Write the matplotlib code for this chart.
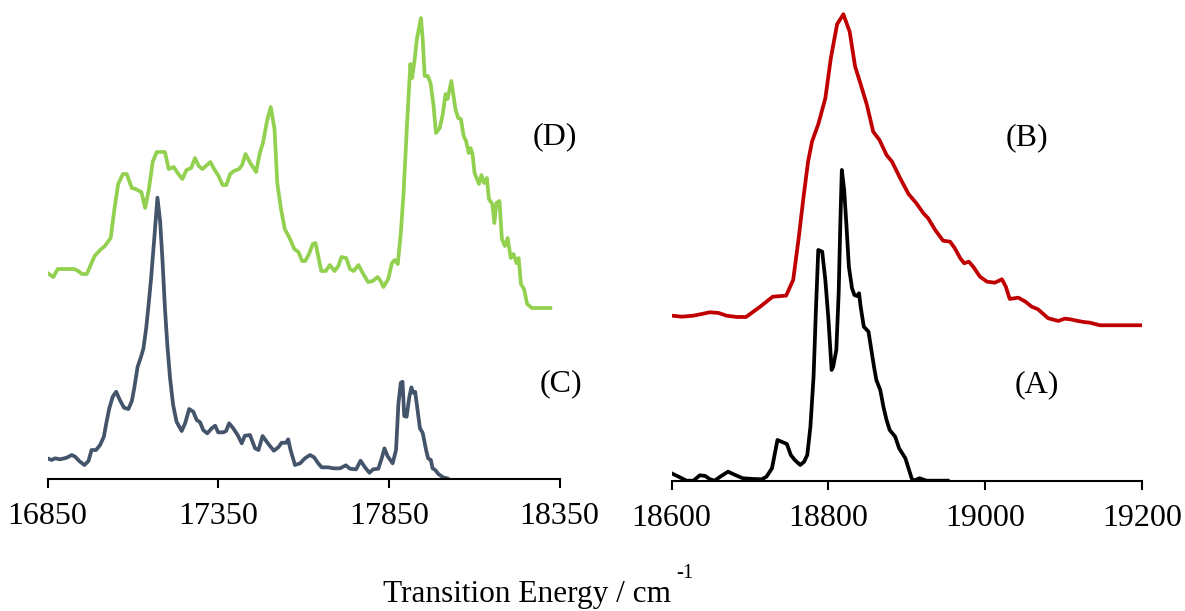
import matplotlib.pyplot as plt


# Spectrum (D) - green, offset trace on the left panel
d_wn = [16850, 16867, 16880, 16928, 16940, 16951, 16965, 16988, 17004, 17018,
        17035, 17046, 17057, 17071, 17082, 17097, 17108, 17125, 17136, 17147,
        17158, 17170, 17194, 17205, 17220, 17231, 17245, 17257, 17271, 17282,
        17293, 17304, 17327, 17338, 17351, 17363, 17374, 17385, 17396, 17411,
        17420, 17430, 17444, 17461, 17472, 17481, 17493, 17504, 17515, 17523,
        17534, 17545, 17559, 17573, 17585, 17596, 17605, 17616, 17627, 17635,
        17644, 17652, 17665, 17677, 17691, 17702, 17711, 17725, 17736, 17747,
        17761, 17775, 17789, 17803, 17817, 17826, 17834, 17848, 17859, 17867,
        17876, 17885, 17893, 17904, 17913, 17918, 17925, 17932, 17944, 17949,
        17955, 17964, 17972, 17981, 17988, 17999, 18008, 18016, 18022, 18033,
        18045, 18053, 18061, 18069, 18076, 18084, 18089, 18095, 18101, 18114,
        18121, 18129, 18137, 18143, 18153, 18159, 18165, 18174, 18181, 18190,
        18198, 18207, 18215, 18224, 18230, 18237, 18246, 18255, 18269, 18323]
d_int = [36, 32, 40, 40, 38, 35, 35, 53, 59, 63,
         71, 100, 125, 135, 135, 121, 120, 117, 101, 120,
         147, 157, 157, 140, 142, 136, 130, 139, 141, 151,
         143, 140, 147, 140, 133, 124, 124, 135, 138, 140,
         144, 155, 146, 137, 156, 166, 188, 202, 180, 126,
         100, 80, 71, 60, 57, 48, 48, 55, 65, 66,
         51, 38, 38, 44, 38, 43, 52, 51, 40, 38,
         44, 35, 27, 28, 32, 28, 22, 30, 46, 49,
         45, 76, 116, 190, 245, 231, 248, 270, 291, 270,
         233, 233, 226, 203, 176, 181, 195, 215, 210, 228,
         200, 191, 190, 173, 168, 156, 161, 155, 136, 125,
         134, 126, 131, 110, 105, 86, 106, 108, 70, 63,
         71, 51, 55, 46, 51, 25, 20, 5, 1, 1]
d_offset = 170

# Spectrum (C) - slate, left panel
c_wn = [16850, 16862, 16872, 16887, 16906, 16921, 16931, 16943, 16958, 16970,
        16979, 16992, 17004, 17015, 17023, 17031, 17041, 17051, 17062, 17074,
        17087, 17097, 17104, 17114, 17124, 17131, 17139, 17145, 17153, 17162,
        17172, 17180, 17187, 17194, 17201, 17209, 17218, 17228, 17243, 17253,
        17265, 17277, 17287, 17297, 17306, 17318, 17331, 17341, 17350, 17365,
        17373, 17382, 17394, 17407, 17419, 17428, 17443, 17458, 17468, 17480,
        17497, 17513, 17526, 17536, 17549, 17555, 17562, 17575, 17590, 17604,
        17619, 17631, 17643, 17653, 17673, 17687, 17707, 17724, 17736, 17754,
        17767, 17780, 17793, 17804, 17819, 17829, 17837, 17846, 17861, 17871,
        17878, 17885, 17890, 17895, 17902, 17910, 17916, 17921, 17927, 17934,
        17941, 17949, 17959, 17965, 17973, 17978, 17986, 17995, 18009, 18021]
c_int = [20.7, 19, 20.7, 19.7, 21.3, 24, 22.3, 18, 14, 18,
         29, 29, 34, 42.3, 57.3, 70.7, 82.3, 87.3, 79, 71.3,
         70, 78, 90.7, 112.3, 122.3, 130.7, 150.7, 170.7, 199, 237.3,
         281.3, 257.3, 217.3, 170.7, 134, 100.7, 74, 57.3, 48, 55.7,
         70, 67.3, 59, 56.7, 49, 45.7, 50.7, 53.3, 46.7, 46.7,
         48, 55.7, 50.7, 44, 35.7, 43.3, 44, 30.7, 29, 43,
         35, 28.3, 31.7, 36.3, 36.3, 39.7, 29, 14, 15.7, 20.7,
         24, 21.7, 15.7, 11.7, 11.7, 10.7, 10.7, 13.7, 10.3, 9.7,
         18.3, 11.7, 6.3, 9.7, 10.3, 20.7, 30.7, 23, 15.7, 29,
         75.7, 96.3, 97.3, 63, 62.3, 82.3, 91.7, 86.3, 87.3, 69,
         50.7, 46.3, 29, 20.7, 19, 10.7, 9, 5, 1.7, 0.7]

# Spectrum (B) - red, offset trace on the right panel
b_wn = [18600, 18613, 18628, 18649, 18660, 18670, 18683, 18695, 18713, 18729,
        18746, 18755, 18762, 18768, 18774, 18779, 18787, 18796, 18803, 18811,
        18819, 18827, 18834, 18840, 18849, 18857, 18865, 18874, 18881, 18891,
        18902, 18912, 18921, 18927, 18936, 18946, 18955, 18961, 18968, 18973,
        18979, 18985, 18993, 19002, 19012, 19021, 19026, 19031, 19042, 19051,
        19059, 19067, 19080, 19093, 19101, 19108, 19116, 19125, 19133, 19146,
        19167, 19200]
b_int = [10.3, 9.3, 10.3, 13.7, 13, 10.3, 9, 9, 19.3, 29.3,
         30.3, 46, 87.7, 127.7, 164.3, 184.3, 201.7, 227.7, 267.7, 301.7,
         311.7, 294.3, 259.3, 244.3, 221, 194.3, 186, 171, 164.3, 148.3,
         132, 122.7, 112.7, 107.7, 96, 85.3, 84.3, 77.7, 67.7, 62.7,
         64.3, 58.7, 49.3, 44.3, 43.3, 46.7, 39.3, 27, 28.3, 24.3,
         19.3, 16.7, 7.7, 5, 7.3, 6.7, 5.3, 4, 3.3, 0.7,
         0.7, 0.7]
b_offset = 155

# Spectrum (A) - black, right panel
a_wn = [18600, 18609, 18619, 18628, 18636, 18643, 18649, 18655, 18662, 18672,
        18681, 18691, 18704, 18715, 18721, 18728, 18735, 18740, 18747, 18752,
        18757, 18764, 18769, 18773, 18777, 18781, 18784, 18787, 18792, 18796,
        18800, 18804, 18806, 18810, 18813, 18815, 18817, 18820, 18823, 18826,
        18830, 18833, 18836, 18839, 18841, 18845, 18851, 18854, 18858, 18861,
        18866, 18870, 18874, 18878, 18885, 18890, 18898, 18902, 18906, 18909,
        18916, 18925, 18952]
a_int = [7.7, 4.3, 0.3, 0.3, 5.7, 5, 1.7, 0.3, 4.3, 9.3,
         6, 2.7, 2, 1.7, 4.3, 12.7, 41, 39.3, 37, 26,
         21, 16, 19.3, 26, 54.3, 104.3, 171, 231, 229.3, 201,
         161, 111, 114.3, 131, 187.7, 254.3, 311, 291, 254.3, 214.3,
         192.7, 186, 185, 187.7, 174.3, 154.3, 149.3, 134.3, 114.3, 101,
         91, 74.3, 61, 51, 44.3, 32.7, 22.7, 12.7, 2.7, 0.3,
         2.7, 0.3, 0.3]

left_ticks = [16850, 17350, 17850, 18350]
right_ticks = [18600, 18800, 19000, 19200]

GREEN = "#92D050"
SLATE = "#44546A"
RED = "#C00000"
FONT = "Liberation Serif"
FS = 23
LW = 2.7


def style_axis(ax, ticks, ymax):
    ax.set_xlim(ticks[0], ticks[-1])
    ax.set_ylim(0, ymax)
    ax.set_xticks(ticks)
    ax.set_xticklabels([str(t) for t in ticks], fontsize=FS, family=FONT)
    ax.set_yticks([])
    for side in ["left", "right", "top"]:
        ax.spines[side].set_visible(False)
    ax.spines["bottom"].set_linewidth(1.5)
    ax.tick_params(axis="x", direction="out", length=6.5, width=1.5, pad=10)
    ax.patch.set_alpha(0)


fig = plt.figure(figsize=(11.85, 6.11), dpi=100)

ax1 = fig.add_axes([0.0401, 0.2160, 0.4321, 0.7758])
ax1.plot(d_wn, [v + d_offset for v in d_int], color=GREEN, lw=LW)
ax1.plot(c_wn, c_int, color=SLATE, lw=LW)
style_axis(ax1, left_ticks, 474)
ax1.text(18336, 342, "(D)", fontsize=FS, family=FONT, ha="center", va="center")
ax1.text(18354, 95, "(C)", fontsize=FS, family=FONT, ha="center", va="center")

ax2 = fig.add_axes([0.5667, 0.2128, 0.3973, 0.7791])
ax2.plot(b_wn, [v + b_offset for v in b_int], color=RED, lw=LW)
ax2.plot(a_wn, a_int, color="black", lw=LW)
style_axis(ax2, right_ticks, 476)
ax2.text(19053, 343, "(B)", fontsize=FS, family=FONT, ha="center", va="center")
ax2.text(19065, 96, "(A)", fontsize=FS, family=FONT, ha="center", va="center")

fig.text(0.3232, 0.014, "Transition Energy / cm", fontsize=22.5, family=FONT,
         ha="left", va="baseline")
fig.text(0.5705, 0.054, "-1", fontsize=15, family=FONT, ha="left", va="baseline")

plt.savefig("out.png", dpi=100)
plt.close()
